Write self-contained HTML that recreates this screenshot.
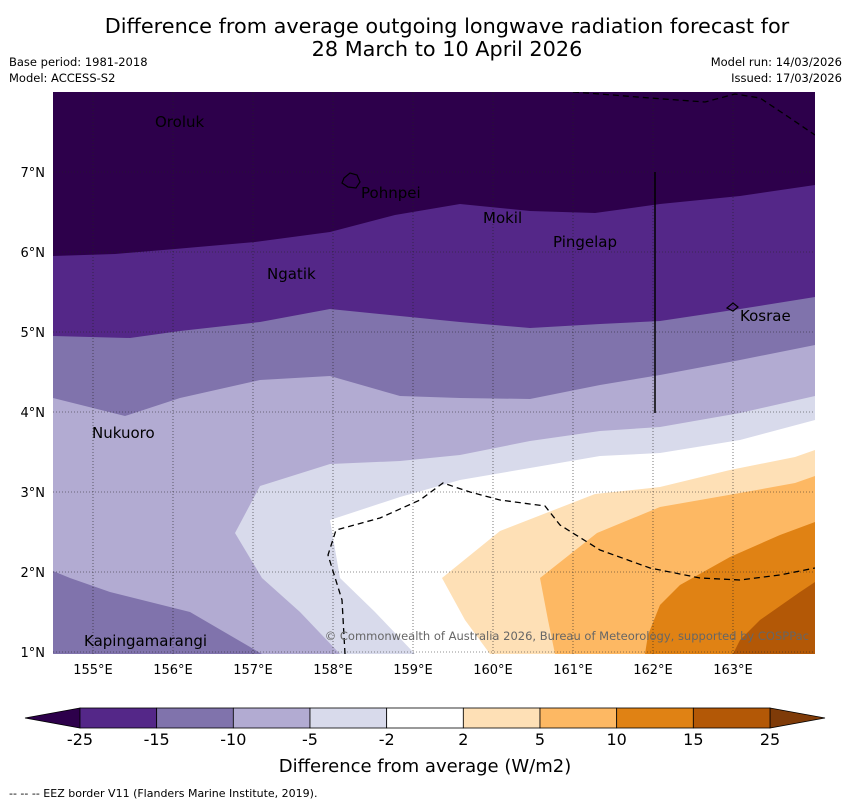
<!DOCTYPE html>
<html><head><meta charset="utf-8"><style>
body{margin:0;background:#fff;width:850px;height:804px;overflow:hidden;font-family:"DejaVu Sans","Liberation Sans",sans-serif}
svg{position:absolute;left:0;top:0}
</style></head><body>
<svg width="850" height="804" font-family="DejaVu Sans, Liberation Sans, sans-serif">
<text x="447" y="33" font-size="20.8" text-anchor="middle">Difference from average outgoing longwave radiation forecast for</text>
<text x="447" y="56" font-size="20.8" text-anchor="middle">28 March to 10 April 2026</text>
<text x="9" y="66" font-size="11.5">Base period: 1981-2018</text>
<text x="9" y="82" font-size="11.5">Model: ACCESS-S2</text>
<text x="842" y="66" font-size="11.5" text-anchor="end">Model run: 14/03/2026</text>
<text x="842" y="82" font-size="11.5" text-anchor="end">Issued: 17/03/2026</text>
<g id="map"></g>
<g id="cbar"></g>
<text x="425" y="772" font-size="18" text-anchor="middle">Difference from average (W/m2)</text>
<text x="9" y="797" font-size="11">--  --  -- EEZ border V11 (Flanders Marine Institute, 2019).</text>
</svg>
<script>
const NS="http://www.w3.org/2000/svg";
const lonTicks=[155,156,157,158,159,160,161,162,163];
const latTicks=[1,2,3,4,5,6,7];
const colors=["#2d004b","#542788","#8073ac","#b2abd2","#d8daeb","#ffffff","#fee0b6","#fdb863","#e08214","#b35806","#7f3b08"];
const levels=["-25","-15","-10","-5","-2","2","5","10","15","25"];
const px2=(p)=>p.map(([x,y])=>[(x-93)/80+155,7-(y-172)/80]);
const bands=[
 {c:1,pts:px2([[53,256],[115,254],[175,249],[255,242],[330,232],[395,215],[460,204],[530,211],[595,213],[660,204],[740,196],[815,185]])},
 {c:2,pts:px2([[53,336],[130,338],[180,331],[260,322],[330,309],[400,316],[460,322],[530,328],[600,324],[660,321],[740,309],[815,297]])},
 {c:3,pts:px2([[53,398],[125,416],[180,398],[260,380],[330,376],[400,396],[460,398],[530,399],[600,385],[660,375],[740,360],[815,345]])},
 {c:4,pts:px2([[340,654],[300,612],[262,578],[235,533],[260,486],[330,464],[400,461],[460,455],[530,441],[600,431],[660,427],[740,413],[815,396]])},
 {c:2,pts:px2([[53,571],[70,578],[110,592],[190,612],[262,654],[53,654]])},
 {c:5,pts:px2([[415,654],[375,612],[340,578],[330,520],[400,497],[460,480],[530,468],[600,456],[660,453],[740,440],[815,420]])},
 {c:6,pts:px2([[490,654],[465,620],[442,578],[500,531],[595,494],[660,487],[730,470],[795,457],[815,450]])},
 {c:7,pts:px2([[555,654],[548,620],[540,578],[597,533],[660,507],[740,493],[795,483],[815,476]])},
 {c:8,pts:px2([[645,654],[648,635],[660,605],[680,585],[730,557],[780,535],[815,522]])},
 {c:9,pts:px2([[733,654],[740,640],[760,620],[800,592],[815,582]])}
];
const eez1=px2([[345,654],[342,600],[328,555],[336,530],[380,518],[420,500],[443,483],[470,492],[500,500],[545,506],[560,525],[600,550],[650,568],[700,578],[740,580],[780,575],[815,568]]);
const eez2=px2([[573,92],[600,94],[650,98],[705,102],[735,94],[760,98],[790,118],[815,135]]);
const L=53,R=815,T=92,B=654;
const X=lon=>93+(lon-155)*80, Y=lat=>172-(lat-7)*80;
function el(t,a,p){const e=document.createElementNS(NS,t);for(const k in a)e.setAttribute(k,a[k]);p.appendChild(e);return e;}
const map=document.getElementById('map');
const cp=el('clipPath',{id:'cp'},el('defs',{},map));el('rect',{x:L,y:T,width:R-L,height:B-T},cp);
const g=el('g',{'clip-path':'url(#cp)'},map);
const bg=el('rect',{x:L,y:T,width:R-L,height:B-T,fill:colors[0]},g);


bands.forEach((b,i)=>{
  let d=b.pts.map((p,j)=>(j?'L':'M')+X(p[0]).toFixed(1)+','+Y(p[1]).toFixed(1)).join(' ');
  if(i===4) d+=' Z';
  else if(b.pts[0][0]>154.6) d+=` L${R+5},${B+5} Z`;
  else d+=` L${R+5},${B+5} L${L-5},${B+5} L${L-5},${Y(b.pts[0][1])} Z`;
  const p=el('path',{d:d,fill:colors[b.c]},g);
  
  
});
lonTicks.forEach(v=>{const l=el('line',{x1:X(v),x2:X(v),y1:T,y2:B,stroke:'#222','stroke-width':0.6,'stroke-dasharray':'1,2'},g);
 
 const t=el('text',{x:X(v),y:674,'font-size':13,'text-anchor':'middle'},map);t.textContent=v+'°E';
 });
latTicks.forEach(v=>{const l=el('line',{x1:L,x2:R,y1:Y(v),y2:Y(v),stroke:'#222','stroke-width':0.6,'stroke-dasharray':'1,2'},g);
 
 const t=el('text',{x:45,y:Y(v)+5,'font-size':13,'text-anchor':'end'},map);t.textContent=v+'°N';
 });
[eez1,eez2].forEach(a=>{const l=el('path',{d:a.map((p,j)=>(j?'L':'M')+X(p[0])+','+Y(p[1])).join(' '),fill:'none',stroke:'#000','stroke-width':1.3,'stroke-dasharray':'6,4'},g);
 });
const sl=el('line',{x1:655,x2:655,y1:172,y2:413,stroke:'#000','stroke-width':1.5},g);

const isl=el('path',{d:'M344,178 L350,173 L357,175 L360,182 L356,188 L348,187 L342,183 Z M727,308 L733,303 L738,307 L733,311 Z',fill:'none',stroke:'#000','stroke-width':1.2},g);

const labels=[["Oroluk",155,127],["Pohnpei",361,198],["Mokil",483,223],["Pingelap",553,247],["Ngatik",267,279],["Kosrae",740,321],["Nukuoro",92,438],["Kapingamarangi",84,646]];
labels.forEach(([s,x,y])=>{const t=el('text',{x:x,y:y,'font-size':15},g);t.textContent=s;
 });
const cr=el('text',{x:809,y:640,'font-size':11.5,'text-anchor':'end',fill:'#666'},g);cr.textContent='© Commonwealth of Australia 2026, Bureau of Meteorology, supported by COSPPac';

const cb=document.getElementById('cbar');const cx0=80,cx1=770,cy=708,ch=20,sw=(cx1-cx0)/9;
const t1=el('path',{d:`M${cx0},${cy} L25,${cy+ch/2} L${cx0},${cy+ch} Z`,fill:colors[0],stroke:'#000','stroke-width':0.8},cb);

const t2=el('path',{d:`M${cx1},${cy} L825,${cy+ch/2} L${cx1},${cy+ch} Z`,fill:colors[10],stroke:'#000','stroke-width':0.8},cb);

for(let i=0;i<9;i++){const r=el('rect',{x:cx0+i*sw,y:cy,width:sw,height:ch,fill:colors[i+1],stroke:'#000','stroke-width':0.8},cb);
 }
levels.forEach((s,i)=>{const t=el('text',{x:cx0+i*sw,y:745,'font-size':16,'text-anchor':'middle'},cb);t.textContent=s;
 });
</script>
</body></html>
